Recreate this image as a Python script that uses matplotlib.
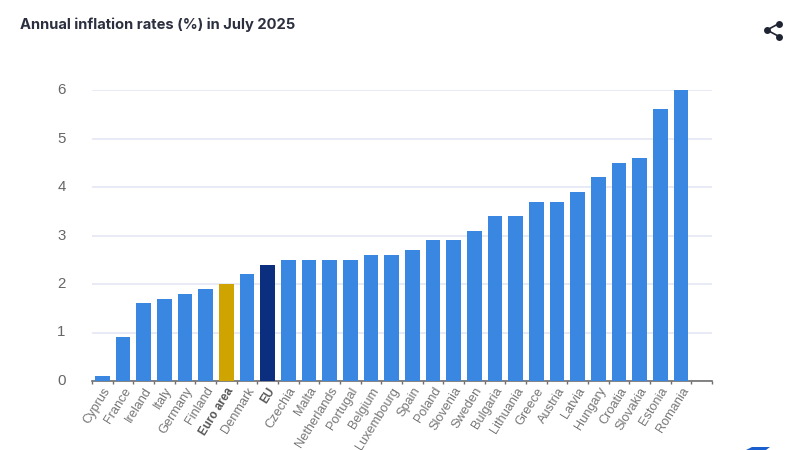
import matplotlib
matplotlib.use('agg')
import matplotlib.pyplot as plt
import matplotlib.lines as lines
import matplotlib.patches as patches
from matplotlib.transforms import ScaledTranslation

countries = ['Cyprus', 'France', 'Ireland', 'Italy', 'Germany', 'Finland', 'Euro area',
             'Denmark', 'EU', 'Czechia', 'Malta', 'Netherlands', 'Portugal', 'Belgium',
             'Luxembourg', 'Spain', 'Poland', 'Slovenia', 'Sweden', 'Bulgaria', 'Lithuania',
             'Greece', 'Austria', 'Latvia', 'Hungary', 'Croatia', 'Slovakia', 'Estonia',
             'Romania']
rates = [0.1, 0.9, 1.6, 1.7, 1.8, 1.9, 2.0, 2.2, 2.4, 2.5, 2.5, 2.5, 2.5, 2.6, 2.6,
         2.7, 2.9, 2.9, 3.1, 3.4, 3.4, 3.7, 3.7, 3.9, 4.2, 4.5, 4.6, 5.6, 6.0]
y_ticks = [0, 1, 2, 3, 4, 5, 6]
highlights = {'Euro area': '#d0a400', 'EU': '#0b2f7e'}

W, H = 800, 450
fig = plt.figure(figsize=(W / 100, H / 100), dpi=100)
plt.rcParams['font.family'] = ['Liberation Sans', 'DejaVu Sans']

# Axes box in pixels, measured on the picture
left, right, top, bottom = 92, 712, 90, 381
ax = fig.add_axes([left / W, 1 - bottom / H, (right - left) / W, (bottom - top) / H])

colors = [highlights.get(c, '#3a87e2') for c in countries]
x = list(range(len(countries)))
ax.bar(x, rates, width=0.7, color=colors, zorder=3, clip_on=False)

ax.set_xlim(-0.5, len(countries) + 0.5)
ax.set_ylim(0, 6)
ax.set_yticks(y_ticks)
ax.grid(axis='y', color='#e4e6f4', lw=1.2, zorder=0)
ax.tick_params(axis='y', length=0, pad=19, labelsize=10.8, labelcolor='#666666')
# The y labels sit a little above their grid lines
for lab in ax.get_yticklabels():
    lab.set_transform(lab.get_transform() + ScaledTranslation(0, 1.5 / 100, fig.dpi_scale_trans))

for side in ['top', 'right', 'left']:
    ax.spines[side].set_visible(False)
ax.spines['bottom'].set_color('#6e6e6e')
ax.spines['bottom'].set_linewidth(1.2)

# Ticks sit on the slot boundaries, labels in the middle of the slots
ax.set_xticks(x)
ax.set_xticklabels(countries, rotation=58, ha='right', rotation_mode='anchor',
                   fontsize=9.2, color='#767676')
ax.tick_params(axis='x', which='major', length=0, pad=3)
ax.set_xticks([i - 0.5 for i in range(len(countries) + 2)], minor=True)
ax.tick_params(axis='x', which='minor', length=2.5, width=1, color='#6e6e6e')
for lab in ax.get_xticklabels():
    if lab.get_text() in highlights:
        lab.set_fontweight('bold')
        lab.set_fontsize(8.4)
        lab.set_color('#555555')

fig.text(20 / W, 1 - 25 / H, 'Annual inflation rates (%) in July 2025', fontsize=10.6,
         fontweight='bold', color='#2b2f3f', family=['Inter', 'DejaVu Sans'],
         va='center', ha='left')

# Share icon, top right
ic = '#1f2433'
nodes = [(767, 30), (779, 23.5), (779, 36.5)]
for a in nodes[1:]:
    fig.add_artist(lines.Line2D([nodes[0][0] / W, a[0] / W],
                                [1 - nodes[0][1] / H, 1 - a[1] / H], color=ic, lw=1.2))
for cx, cy in nodes:
    fig.add_artist(lines.Line2D([cx / W], [1 - cy / H], marker='o', ms=5, color=ic, mew=0))

# Corner of a logo cut off by the bottom edge
logo = [(746, 450), (752, 447), (770, 447), (766, 450)]
fig.add_artist(patches.Polygon([(px / W, 1 - py / H) for px, py in logo],
                               closed=True, color='#1a5fd0', lw=0,
                               transform=fig.transFigure))

fig.savefig('out.png', dpi=100)
